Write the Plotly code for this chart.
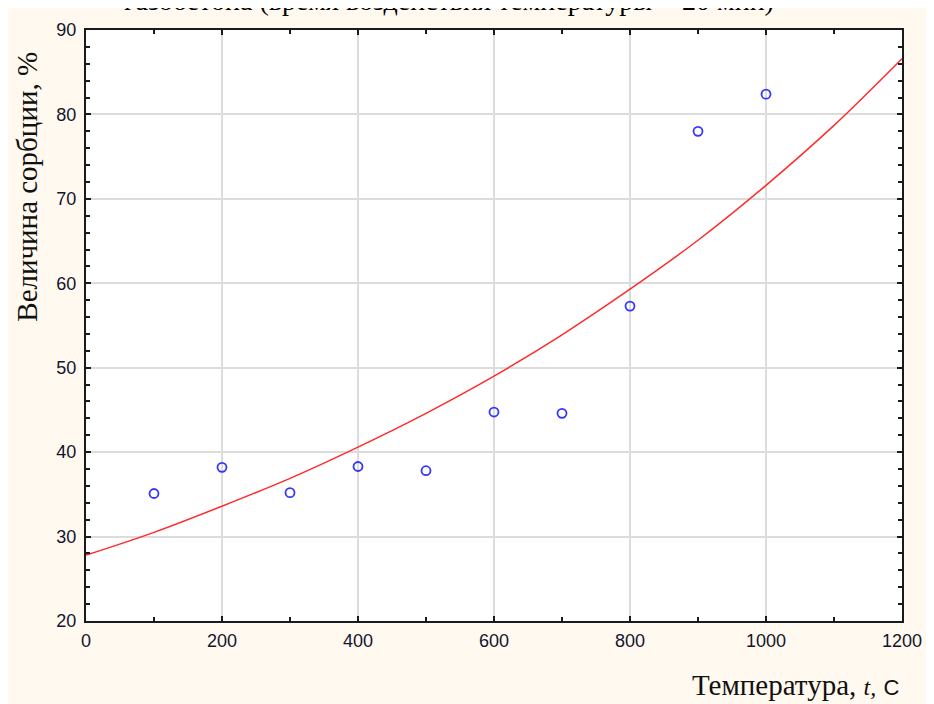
import plotly.graph_objects as go

# Measured points
temps = [100, 200, 300, 400, 500, 600, 700, 800, 900, 1000]
sorption = [35.1, 38.2, 35.2, 38.3, 37.8, 44.75, 44.6, 57.3, 78.0, 82.4]

# Fitted curve
fit_t = [0, 100, 200, 300, 400, 500, 600, 700, 800, 900, 1000, 1100, 1200]
fit_v = [27.8, 30.5, 33.6, 36.9, 40.6, 44.6, 49.0, 53.9, 59.3, 65.1, 71.6, 78.7, 86.6]

x_ticks = [0, 200, 400, 600, 800, 1000, 1200]
y_ticks = [20, 30, 40, 50, 60, 70, 80, 90]

title_text = "газобетона (время воздействия температуры = 20 мин)"
y_title = "Величина сорбции, %"
x_title = ("Температура, <i><span style='font-size:24px'>t,</span></i> "
           "<span style='font-family:Liberation Sans, Arial;font-size:22px'>С</span>")

OFF = 8  # page body margin
W, H = 934 - OFF, 704 - OFF
L, R, T, B = 86 - OFF, 25, 27 - OFF, 83
pw, ph = W - L - R, H - T - B

def px(xp):
    # page x pixel -> paper coordinate
    return (xp - OFF - L) / pw

def py(yp):
    # page y pixel -> paper coordinate
    return (H - B - (yp - OFF)) / ph

fig = go.Figure()
fig.add_trace(go.Scatter(x=fit_t, y=fit_v, mode="lines", line=dict(color="#ff2a2a", width=1.5, shape="spline"),
                         hoverinfo="skip", showlegend=False))
fig.add_trace(go.Scatter(x=temps, y=sorption, mode="markers",
                         marker=dict(symbol="circle-open", size=9, color="#3535ff", line=dict(width=1.8, color="#3535ff")),
                         showlegend=False))

tickfont = dict(family="Liberation Sans, Arial", size=18, color="#14142e")
common = dict(showline=True, linecolor="#1a1a1a", linewidth=2, mirror="allticks", ticks="inside",
              ticklen=5, tickcolor="#1a1a1a", tickwidth=1.5, showgrid=True, gridcolor="#dcdcdc", gridwidth=1.5,
              zeroline=False, tickfont=tickfont)

fig.update_xaxes(range=[0, 1200], tickvals=x_ticks, ticktext=[str(v) for v in x_ticks],
                 minor=dict(dtick=100, tick0=0, ticks="inside", ticklen=4, tickcolor="#1a1a1a", showgrid=False),
                 ticklabelstandoff=2, **common)
fig.update_yaxes(range=[20, 90], tickvals=y_ticks, ticktext=[str(v) for v in y_ticks],
                 minor=dict(dtick=2, tick0=20, ticks="inside", ticklen=4, tickcolor="#1a1a1a", showgrid=False),
                 ticklabelstandoff=4, **common)

fig.update_layout(
    width=W, height=H,
    margin=dict(l=L, r=R, t=T, b=B),
    paper_bgcolor="#fff9ef",
    plot_bgcolor="white",
    annotations=[
        dict(text=title_text, xref="paper", yref="paper", x=px(452), y=py(15), xanchor="center", yanchor="bottom",
             showarrow=False, font=dict(family="Liberation Serif, Times New Roman", size=28, color="black")),
        dict(text=y_title, xref="paper", yref="paper", x=px(27), y=py(185), xanchor="center", yanchor="middle",
             textangle=-90, showarrow=False,
             font=dict(family="Liberation Serif, Times New Roman", size=29, color="#111")),
        dict(text=x_title, xref="paper", yref="paper", x=px(908), y=py(685), xanchor="right", yanchor="middle",
             showarrow=False, font=dict(family="Liberation Serif, Times New Roman", size=29, color="#111")),
    ],
)

fig.write_html("out.html")
